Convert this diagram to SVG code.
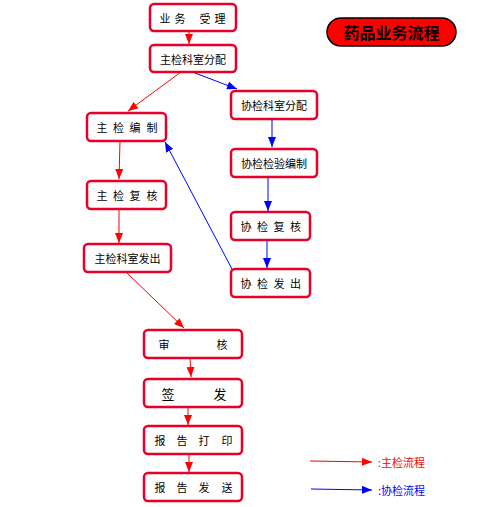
<svg xmlns="http://www.w3.org/2000/svg" width="499" height="507" viewBox="0 0 499 507">
<style>
.n rect{fill:#fff;stroke:#e8002a;stroke-width:2.5}
.n text{font-family:"Noto Sans CJK SC","Noto Sans",sans-serif;font-size:11px;fill:#000;text-anchor:middle;dominant-baseline:central}
.r{stroke:#ff0000;stroke-width:1;fill:none;marker-end:url(#ar)}
.b{stroke:#0000ff;stroke-width:1;fill:none;marker-end:url(#ab)}
.lg{font-family:"Noto Sans CJK SC","Noto Sans",sans-serif;font-size:11px;dominant-baseline:central}
</style>
<defs>
<marker id="ar" viewBox="0 0 10 8" refX="10" refY="4" markerWidth="10" markerHeight="8" markerUnits="userSpaceOnUse" orient="auto"><path d="M0,0L10,4L0,8z" fill="#ff0000"/></marker>
<marker id="ab" viewBox="0 0 10 8" refX="10" refY="4" markerWidth="10" markerHeight="8" markerUnits="userSpaceOnUse" orient="auto"><path d="M0,0L10,4L0,8z" fill="#0000ff"/></marker>
</defs>
<rect width="499" height="507" fill="#fff"/>
<g id="title">
<rect x="327" y="18" width="129" height="28" rx="14" fill="#ff0000" stroke="#000" stroke-width="1.5"/>
<text x="391.5" y="32" font-family="'Noto Sans CJK SC',sans-serif" font-size="16" font-weight="bold" text-anchor="middle" dominant-baseline="central" fill="#000">药品业务流程</text>
</g>
<g id="n1" class="n"><rect x="150" y="4" width="86" height="27" rx="4"/><text y="17.5"><tspan x="165">业</tspan><tspan x="180">务</tspan><tspan x="205">受</tspan><tspan x="220">理</tspan></text></g>
<g id="n2" class="n"><rect x="150" y="45" width="86" height="27" rx="4"/><text x="193" y="58.5">主检科室分配</text></g>
<g id="n3" class="n"><rect x="231" y="91" width="86" height="28" rx="4"/><text x="274" y="105">协检科室分配</text></g>
<g id="n4" class="n"><rect x="87" y="113" width="79" height="28" rx="4"/><text y="127"><tspan x="102">主</tspan><tspan x="118.5">检</tspan><tspan x="135">编</tspan><tspan x="152">制</tspan></text></g>
<g id="n5" class="n"><rect x="231" y="149" width="86" height="28" rx="4"/><text x="274" y="163">协检检验编制</text></g>
<g id="n6" class="n"><rect x="87" y="181" width="79" height="28" rx="4"/><text y="195"><tspan x="102">主</tspan><tspan x="118.5">检</tspan><tspan x="135">复</tspan><tspan x="152">核</tspan></text></g>
<g id="n7" class="n"><rect x="231" y="212" width="79" height="28" rx="4"/><text y="226"><tspan x="246">协</tspan><tspan x="262.5">检</tspan><tspan x="279">复</tspan><tspan x="295.5">核</tspan></text></g>
<g id="n8" class="n"><rect x="84" y="244" width="87" height="28" rx="4"/><text x="127.5" y="258">主检科室发出</text></g>
<g id="n9" class="n"><rect x="231" y="269" width="79" height="28" rx="4"/><text y="283"><tspan x="246">协</tspan><tspan x="262.5">检</tspan><tspan x="279">发</tspan><tspan x="295.5">出</tspan></text></g>
<g id="n10" class="n"><rect x="144" y="330" width="98" height="28" rx="4"/><text y="344"><tspan x="164">审</tspan><tspan x="222">核</tspan></text></g>
<g id="n11" class="n"><rect x="144" y="379" width="98" height="28" rx="4"/><text y="393" style="font-size:13px"><tspan x="168">签</tspan><tspan x="220">发</tspan></text></g>
<g id="n12" class="n"><rect x="144" y="426" width="98" height="28" rx="4"/><text y="440"><tspan x="160">报</tspan><tspan x="182">告</tspan><tspan x="204">打</tspan><tspan x="227">印</tspan></text></g>
<g id="n13" class="n"><rect x="144" y="473" width="98" height="28" rx="4"/><text y="487"><tspan x="160">报</tspan><tspan x="182">告</tspan><tspan x="204">发</tspan><tspan x="227">送</tspan></text></g>
<g id="connectors">
<line class="r" x1="189" y1="31" x2="189" y2="44"/>
<line class="r" x1="181" y1="72" x2="128" y2="111"/>
<line class="b" x1="195" y1="73" x2="237" y2="89"/>
<line class="b" x1="272" y1="119" x2="272" y2="147"/>
<line class="r" x1="120" y1="141" x2="119" y2="179"/>
<line class="b" x1="268" y1="177" x2="268" y2="211"/>
<line class="r" x1="119" y1="209" x2="119" y2="243"/>
<line class="b" x1="267" y1="240" x2="267" y2="268"/>
<line class="b" x1="232" y1="269" x2="165" y2="142"/>
<line class="r" x1="126" y1="272" x2="184" y2="328"/>
<line class="r" x1="190" y1="358" x2="191" y2="377"/>
<line class="r" x1="188" y1="407" x2="188" y2="425"/>
<line class="r" x1="189" y1="454" x2="189" y2="472"/>
<line class="r" x1="310" y1="461" x2="372" y2="462"/>
<line class="b" x1="311" y1="489" x2="372" y2="490"/>
</g>
<g id="legend">
<text class="lg" x="378" y="462" fill="#ff0000">:主检流程</text>
<text class="lg" x="378" y="490" fill="#0000ff">:协检流程</text>
</g>
</svg>
